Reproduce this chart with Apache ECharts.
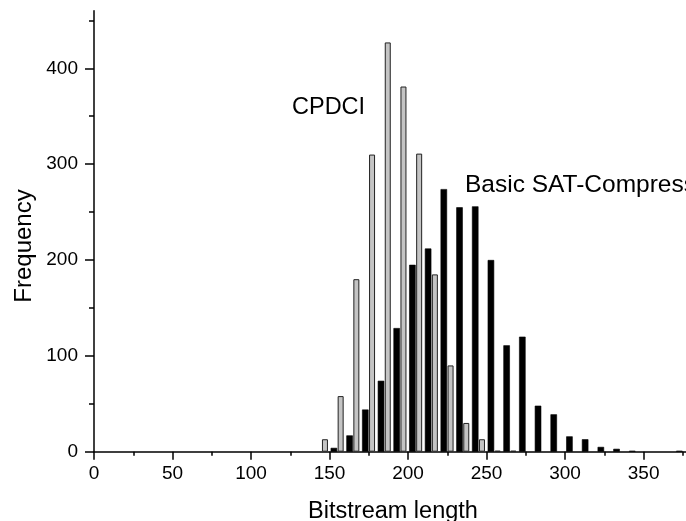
<!DOCTYPE html>
<html>
<head>
<meta charset="utf-8">
<script src="https://cdn.jsdelivr.net/npm/echarts@6/dist/echarts.min.js"></script>
<style>
html,body{margin:0;padding:0;background:#fff;}
#c{width:686px;height:521px;}
</style>
</head>
<body>
<div id="c"></div>
<script>
// ---- data ----
var bins = [150,160,170,180,190,200,210,220,230,240,250,260,270,280,290,300,310,320,330,340,350,360,370];
var cpdci = [13,58,180,310,427,381,311,185,90,30,13,1,1,0,0,0,0,0,0,0,0,0,0];
var basicSat = [4,17,44,74,129,195,212,274,255,256,200,111,120,48,39,16,13,5,3,1,0,0,1];
var xMajorTicks = [0,50,100,150,200,250,300,350];
var xMinorTicks = [25,75,125,175,225,275,325,375];
var yMajorTicks = [0,100,200,300,400];
var yMinorTicks = [50,150,250,350,450];

var FONT = "'Liberation Sans', Arial, Helvetica, sans-serif";

function pairs(vals){
  return bins.map(function(b,i){ return vals[i] > 0 ? [b, vals[i]] : [b, '-']; });
}

var chart = echarts.init(document.getElementById('c'), null, {renderer:'canvas'});
var axisLineStyle = {color:'#000', width:1.5};
var option = {
  animation:false,
  backgroundColor:'#fff',
  grid:{left:94, right:0, top:10.8, bottom:69.3, containLabel:false},
  xAxis:[
    {type:'value', min:0, max:377, position:'bottom',
     axisLine:{show:true, onZero:false, lineStyle:axisLineStyle},
     axisTick:{show:true, inside:false, length:8, customValues:xMajorTicks, lineStyle:axisLineStyle},
     axisLabel:{show:true, customValues:xMajorTicks, fontSize:19, color:'#000', fontFamily:FONT, margin:13},
     splitLine:{show:false}},
    {type:'value', min:0, max:377, position:'bottom',
     axisLine:{show:false, onZero:false},
     axisTick:{show:true, inside:false, length:4, customValues:xMinorTicks, lineStyle:axisLineStyle},
     axisLabel:{show:false},
     splitLine:{show:false}}
  ],
  yAxis:[
    {type:'value', min:0, max:460, position:'left',
     axisLine:{show:true, onZero:false, lineStyle:axisLineStyle},
     axisTick:{show:true, inside:false, length:9, customValues:yMajorTicks, lineStyle:axisLineStyle},
     axisLabel:{show:true, customValues:yMajorTicks, fontSize:19, color:'#000', fontFamily:FONT, margin:16},
     splitLine:{show:false}},
    {type:'value', min:0, max:460, position:'left',
     axisLine:{show:false, onZero:false},
     axisTick:{show:true, inside:false, length:5, customValues:yMinorTicks, lineStyle:axisLineStyle},
     axisLabel:{show:false},
     splitLine:{show:false}}
  ],
  series:[
    {name:'CPDCI', type:'bar', xAxisIndex:0, yAxisIndex:0, barWidth:6, barGap:'45%',
     data:pairs(cpdci),
     itemStyle:{color:'#c4c4c4', borderColor:'#222', borderWidth:1}},
    {name:'Basic SAT-Compress', type:'bar', xAxisIndex:0, yAxisIndex:0, barWidth:6.5, barGap:'45%',
     data:pairs(basicSat),
     itemStyle:{color:'#000', borderColor:'#000', borderWidth:0.6}}
  ],
  graphic:[
    {type:'text', x:292, y:107.5, silent:true,
     style:{text:'CPDCI', fontSize:23.5, fontFamily:FONT, fill:'#000', textAlign:'left', textVerticalAlign:'middle'}},
    {type:'text', x:465, y:185, silent:true,
     style:{text:'Basic SAT-Compress', fontSize:24.5, fontFamily:FONT, fill:'#000', textAlign:'left', textVerticalAlign:'middle'}},
    {type:'text', x:24, y:246, rotation:Math.PI/2, silent:true,
     style:{text:'Frequency', fontSize:24, fontFamily:FONT, fill:'#000', textAlign:'center', textVerticalAlign:'middle'}},
    {type:'text', x:393, y:511.5, silent:true,
     style:{text:'Bitstream length', fontSize:23.5, fontFamily:FONT, fill:'#000', textAlign:'center', textVerticalAlign:'middle'}}
  ]
};
chart.setOption(option);
</script>
</body>
</html>
